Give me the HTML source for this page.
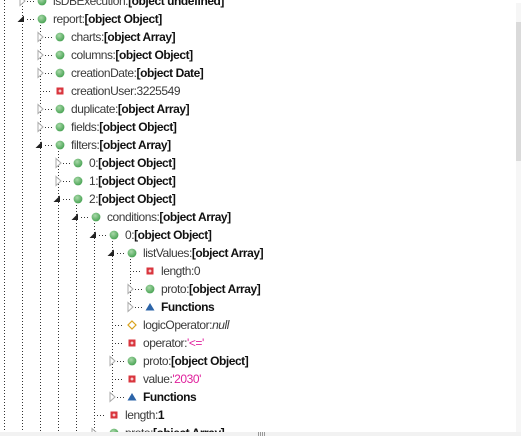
<!DOCTYPE html>
<html><head><meta charset="utf-8"><style>
html,body{margin:0;padding:0;background:#fff;width:521px;height:436px;overflow:hidden}
svg{display:block}
text{font-family:"Liberation Sans",sans-serif;font-size:12px;fill:#3a3a3a;letter-spacing:-0.45px}
.b{font-weight:bold;fill:#111}
.p{fill:#e0209c}
.i{font-style:italic}
.d{stroke:#333;stroke-width:1;stroke-dasharray:1,2;fill:none}
</style></head><body>
<svg width="521" height="436" xmlns="http://www.w3.org/2000/svg">
<defs>
<radialGradient id="g" cx="40%" cy="35%" r="65%"><stop offset="0" stop-color="#a8d8a8"/><stop offset="1" stop-color="#4aa455"/></radialGradient>
<g id="dot"><circle r="4.4" fill="url(#g)"/></g>
<g id="sq"><rect x="-3.5" y="-3.5" width="7" height="7" fill="#d9363e"/><rect x="-1.5" y="-0.5" width="3" height="1" fill="#fff"/><rect x="-0.5" y="-1.5" width="1" height="3" fill="#fff"/></g>
<g id="tri"><polygon points="0,-4 4.5,3.5 -4.5,3.5" fill="#2c64a8"/></g>
<g id="dia"><polygon points="0,-4 4,0 0,4 -4,0" fill="#fff" stroke="#d9a21c" stroke-width="1.2"/></g>
<g id="c"><polygon points="-2,-4.5 3,0 -2,4.5" fill="#fff" stroke="#aaa" stroke-width="1"/><line x1="5" y1="0.5" x2="12" y2="0.5" class="d"/></g>
<g id="e"><polygon points="2,-3.5 2,3 -4.5,3" fill="#222"/><line x1="5" y1="0.5" x2="12" y2="0.5" class="d"/></g>
<g id="n"><line x1="0" y1="0.5" x2="12" y2="0.5" class="d"/></g>
</defs>
<line x1="4.5" y1="0" x2="4.5" y2="436" class="d"/>
<line x1="22.5" y1="0" x2="22.5" y2="436" class="d"/>
<line x1="40.5" y1="22" x2="40.5" y2="436" class="d"/>
<line x1="58.5" y1="148" x2="58.5" y2="436" class="d"/>
<line x1="76.5" y1="202" x2="76.5" y2="436" class="d"/>
<line x1="94.5" y1="220" x2="94.5" y2="436" class="d"/>
<line x1="112.5" y1="238" x2="112.5" y2="397" class="d"/>
<line x1="130.5" y1="256" x2="130.5" y2="307" class="d"/>

<use href="#c" x="22" y="1"/><use href="#dot" x="42" y="1"/><text x="53" y="5">isDBExecution:<tspan class="b">[object undefined]</tspan></text>
<use href="#e" x="22" y="19"/><use href="#dot" x="42" y="19"/><text x="53" y="23">report:<tspan class="b">[object Object]</tspan></text>

<use href="#c" x="40" y="37"/><use href="#dot" x="60" y="37"/><text x="71" y="41">charts:<tspan class="b">[object Array]</tspan></text>
<use href="#c" x="40" y="55"/><use href="#dot" x="60" y="55"/><text x="71" y="59">columns:<tspan class="b">[object Object]</tspan></text>
<use href="#c" x="40" y="73"/><use href="#dot" x="60" y="73"/><text x="71" y="77">creationDate:<tspan class="b">[object Date]</tspan></text>
<use href="#n" x="40" y="91"/><use href="#sq" x="60" y="91"/><text x="71" y="95">creationUser:3225549</text>
<use href="#c" x="40" y="109"/><use href="#dot" x="60" y="109"/><text x="71" y="113">duplicate:<tspan class="b">[object Array]</tspan></text>
<use href="#c" x="40" y="127"/><use href="#dot" x="60" y="127"/><text x="71" y="131">fields:<tspan class="b">[object Object]</tspan></text>
<use href="#e" x="40" y="145"/><use href="#dot" x="60" y="145"/><text x="71" y="149">filters:<tspan class="b">[object Array]</tspan></text>

<use href="#c" x="58" y="163"/><use href="#dot" x="78" y="163"/><text x="89" y="167">0:<tspan class="b">[object Object]</tspan></text>
<use href="#c" x="58" y="181"/><use href="#dot" x="78" y="181"/><text x="89" y="185">1:<tspan class="b">[object Object]</tspan></text>
<use href="#e" x="58" y="199"/><use href="#dot" x="78" y="199"/><text x="89" y="203">2:<tspan class="b">[object Object]</tspan></text>

<use href="#e" x="76" y="217"/><use href="#dot" x="96" y="217"/><text x="107" y="221">conditions:<tspan class="b">[object Array]</tspan></text>
<use href="#e" x="94" y="235"/><use href="#dot" x="114" y="235"/><text x="125" y="239">0:<tspan class="b">[object Object]</tspan></text>
<use href="#e" x="112" y="253"/><use href="#dot" x="132" y="253"/><text x="143" y="257">listValues:<tspan class="b">[object Array]</tspan></text>

<use href="#n" x="130" y="271"/><use href="#sq" x="150" y="271"/><text x="161" y="275">length:0</text>
<use href="#c" x="130" y="289"/><use href="#dot" x="150" y="289"/><text x="161" y="293">proto:<tspan class="b">[object Array]</tspan></text>
<use href="#c" x="130" y="307"/><use href="#tri" x="150" y="307"/><text x="161" y="311" class="b">Functions</text>

<use href="#n" x="112" y="325"/><use href="#dia" x="132" y="325"/><text x="143" y="329">logicOperator:<tspan class="i">null</tspan></text>
<use href="#n" x="112" y="343"/><use href="#sq" x="132" y="343"/><text x="143" y="347">operator:<tspan class="p">'&lt;='</tspan></text>
<use href="#c" x="112" y="361"/><use href="#dot" x="132" y="361"/><text x="143" y="365">proto:<tspan class="b">[object Object]</tspan></text>
<use href="#n" x="112" y="379"/><use href="#sq" x="132" y="379"/><text x="143" y="383">value:<tspan class="p">'2030'</tspan></text>
<use href="#c" x="112" y="397"/><use href="#tri" x="132" y="397"/><text x="143" y="401" class="b">Functions</text>

<use href="#n" x="94" y="415"/><use href="#sq" x="114" y="415"/><text x="125" y="419">length:<tspan class="b">1</tspan></text>
<use href="#c" x="94" y="433"/><use href="#dot" x="114" y="433"/><text x="125" y="437">proto:<tspan class="b">[object Array]</tspan></text>

<rect x="516" y="3" width="5" height="433" fill="#f6f6f6"/>
<rect x="516" y="22" width="5" height="139" fill="#dadada"/>
<rect x="0" y="432" width="521" height="4" fill="#f2f2f2"/>
<g fill="#999"><rect x="258" y="432" width="1" height="4"/><rect x="260" y="432" width="1" height="4"/><rect x="262" y="432" width="1" height="4"/><rect x="264" y="432" width="1" height="4"/></g>
</svg>
</body></html>
